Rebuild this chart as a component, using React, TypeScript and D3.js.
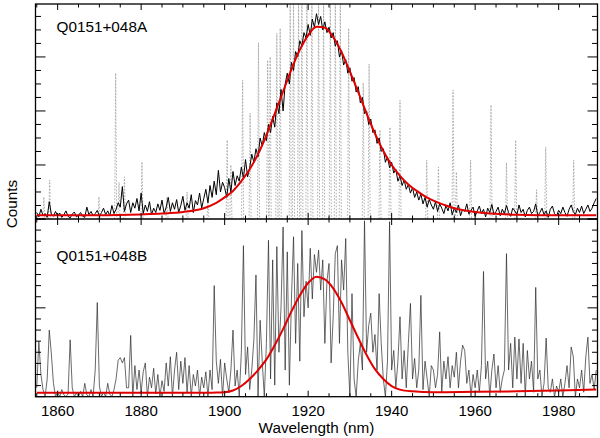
import React from 'react';
import * as d3 from 'd3';

const W = 600;
const H = 438;

// wavelength grid of the extracted spectra (nm)
const WL_START = 1855;
const WL_STEP = 0.5;

// Q0151+048A spectrum (counts, arbitrary units) sampled every 0.5 nm from 1855
const countsA = [
  12, 4, 18, 6, 10, 3, 32, 9, 5, 14,
  6, 11, 3, 8, 15, 5, 2, 9, 13, 4,
  7, 12, 5, 3, 22, 8, 14, 6, 10, 16,
  5, 12, 20, 8, 15, 6, 25, 10, 18, 30,
  22, 60, 14, 28, 35, 12, 30, 20, 38, 15,
  48, 10, 26, 14, 32, 8, 20, 12, 28, 16,
  35, 10, 22, 40, 14, 30, 18, 36, 12, 25,
  42, 16, 30, 20, 45, 12, 34, 26, 48, 20,
  38, 55, 30, 62, 40, 70, 45, 90, 50, 68,
  58, 40, 75, 50, 88, 62, 80, 70, 96, 75,
  110, 78, 95, 120, 105, 130, 115, 150, 135, 160,
  145, 175, 160, 190, 170, 215, 195, 240, 200, 250,
  270, 250, 290, 275, 310, 300, 330, 320, 345, 335,
  360, 340, 370, 355, 380, 360, 375, 350, 365, 345,
  355, 335, 345, 320, 330, 300, 312, 285, 295, 270,
  280, 255, 262, 235, 245, 215, 225, 195, 200, 175,
  185, 160, 165, 140, 150, 125, 130, 105, 115, 95,
  105, 85, 92, 70, 80, 62, 72, 55, 64, 48,
  58, 40, 50, 35, 46, 28, 40, 22, 36, 26,
  18, 32, 14, 28, 20, 10, 25, 15, 30, 8,
  20, 12, 26, 6, 18, 14, 28, 9, 16, 22,
  5, 15, 24, 10, 18, 4, 20, 12, 27, 8,
  14, 22, 6, 18, 10, 25, 12, 5, 20, 15,
  8, 26, 12, 18, 4, 16, 22, 10, 14, 28,
  6, 12, 20, 8, 15, 3, 18, 24, 10, 6,
  16, 10, 22, 12, 5, 18, 26, 14, 8, 20,
  12, 24, 10, 18, 26, 14, 20, 30, 38,
];

// Q0151+048B spectrum sampled every 0.5 nm from 1855
const countsB = [
  10, 62, 25, 8, 0, 20, 75, 48, 15, 0,
  5, 0, 8, 2, 0, 3, 64, 10, 0, 4,
  0, 6, 0, 15, 2, 0, 8, 0, 30, 106,
  12, 0, 5, 0, 15, 3, 0, 8, 20, 41,
  44, 38, 44, 10, 10, 69, 0, 35, 8, 30,
  5, 28, 38, 0, 22, 10, 32, 3, 25, 0,
  18, 6, 38, 12, 45, 0, 30, 50, 8, 40,
  15, 44, 5, 35, 0, 25, 12, 30, 0, 22,
  10, 28, 0, 30, 8, 125, 40, 15, 42, 0,
  38, 20, 5, 30, 75, 12, 30, 0, 50, 170,
  25, 56, 8, 30, 64, 137, 0, 86, 40, 0,
  60, 176, 20, 154, 13, 169, 50, 100, 191, 30,
  163, 13, 110, 180, 60, 150, 40, 187, 90, 130,
  100, 167, 110, 160, 140, 165, 120, 154, 60, 130,
  150, 38, 90, 161, 170, 60, 154, 120, 178, 50,
  0, 116, 20, 0, 40, 60, 30, 198, 50, 80,
  94, 50, 70, 30, 116, 60, 20, 0, 40, 197,
  30, 52, 10, 40, 90, 20, 52, 10, 60, 105,
  20, 43, 10, 30, 114, 8, 40, 20, 0, 35,
  30, 10, 25, 73, 5, 40, 20, 45, 10, 35,
  22, 50, 10, 40, 58, 52, 15, 30, 0, 25,
  10, 30, 5, 35, 141, 20, 40, 0, 30, 48,
  10, 35, 5, 20, 30, 161, 30, 60, 10, 67,
  20, 65, 15, 60, 0, 52, 20, 40, 5, 123,
  20, 30, 0, 15, 66, 10, 5, 20, 0, 12,
  5, 20, 0, 15, 35, 10, 56, 45, 0, 20,
  10, 30, 5, 45, 67, 15, 25, 8, 30,
];

// sky (OH) emission lines shown dotted in panel A
const skyWl = [
  1856.7, 1858.1, 1869.9, 1873.9, 1874.7, 1876.0, 1880.2, 1886.2, 1891.0, 1896.0,
  1900.6, 1901.5, 1904.3, 1906.1, 1908.1, 1910.3, 1910.9, 1912.5, 1913.3, 1915.7,
  1916.5, 1917.7, 1918.5, 1919.7, 1920.9, 1922.5, 1923.7, 1925.3, 1926.5, 1927.7,
  1929.7, 1933.2, 1934.6, 1937.2, 1939.6, 1942.0, 1948.4, 1951.2, 1954.7, 1955.5,
  1958.9, 1963.8, 1967.5, 1969.7, 1974.7, 1976.9, 1983.6,
];
const skyHeight = [
  41, 72, 41, 270, 68, 78, 106, 41, 50, 30,
  146, 100, 257, 196, 326, 294, 300, 344, 353, 430,
  430, 430, 430, 430, 430, 430, 430, 430, 430, 430,
  353, 252, 287, 165, 170, 220, 109, 96, 239, 87,
  109, 211, 104, 146, 54, 133, 109,
];

// Gaussian fits (red)
const fitAWl = [
  1855, 1870, 1880, 1885, 1890, 1895, 1898, 1900, 1902, 1904, 1906, 1908, 1910, 1912,
  1914, 1916, 1918, 1920, 1922, 1924, 1926, 1928, 1930, 1932, 1934, 1936, 1938, 1940,
  1942, 1944, 1946, 1948, 1950, 1953, 1956, 1960, 1965, 1970, 1980, 1989,
];
const fitAVal = [
  7, 7, 8.5, 10, 13, 20, 30, 40, 52, 70, 92, 120, 155, 195,
  236, 277, 313, 340, 356, 354, 337, 309, 273, 235, 195, 158, 126, 100,
  80, 64, 52, 42, 34, 25, 18, 13, 9.5, 8, 7, 7,
];
const fitBWl = [
  1855, 1890, 1898, 1900, 1902, 1904, 1906, 1908, 1910, 1912, 1914, 1916, 1918, 1920,
  1922, 1924, 1926, 1928, 1930, 1932, 1934, 1936, 1938, 1940, 1942, 1945, 1950, 1960,
  1970, 1980, 1989,
];
const fitBVal = [
  4.5, 4.5, 4.6, 5, 7, 12, 20, 30, 42, 58, 76, 96, 114, 128,
  135, 132, 122, 106, 86, 66, 47, 31, 20, 12, 8, 6, 5, 5.5,
  6, 7, 8,
];

const xTickLabels = [1860, 1880, 1900, 1920, 1940, 1960, 1980];
const panelLabels = ['Q0151+048A', 'Q0151+048B'];
const xLabel = 'Wavelength (nm)';
const yLabel = 'Counts';

const FONT = '"Liberation Sans", Arial, Helvetica, sans-serif';

export default function App() {
  const left = 35.5;
  const right = 597.5;
  const topA = 4;
  const mid = 219;
  const bottomB = 396.7;

  const x = d3.scaleLinear().domain([1854.7, 1989.3]).range([left, right]);
  const yA = d3.scaleLinear().domain([0, 398]).range([mid, topA]);
  const yB = d3.scaleLinear().domain([0, 200]).range([bottomB, mid]);

  const wl = (i: number) => WL_START + i * WL_STEP;

  const lineA = d3
    .line<number>()
    .x((_, i) => x(wl(i)))
    .y((d) => yA(d))(countsA) as string;
  const lineB = d3
    .line<number>()
    .x((_, i) => x(wl(i)))
    .y((d) => yB(d))(countsB) as string;

  const fitA = d3
    .line<number>()
    .curve(d3.curveMonotoneX)
    .x((_, i) => x(fitAWl[i]))
    .y((d) => yA(d))(fitAVal) as string;
  const fitB = d3
    .line<number>()
    .curve(d3.curveMonotoneX)
    .x((_, i) => x(fitBWl[i]))
    .y((d) => yB(d))(fitBVal) as string;

  const skyPaths = skyWl.map((w, i) => {
    const pts: [number, number][] = [
      [x(w - 0.25), yA(0)],
      [x(w), yA(skyHeight[i])],
      [x(w + 0.25), yA(0)],
    ];
    return d3.line()(pts) as string;
  });

  const xTicks = d3.range(1855, 1990, 5).filter((v) => v >= 1854.7 && v <= 1989.3);

  const yTicksA = d3.range(0, 398, 25);
  const yTicksB = d3.range(0, 200.01, 12.5);

  const tickLines: React.ReactNode[] = [];
  // x ticks on all four horizontal edges
  const edges: [number, number][] = [
    [topA, 1],
    [mid, -1],
    [mid, 1],
    [bottomB, -1],
  ];
  edges.forEach(([yy, dir], ei) => {
    xTicks.forEach((t) => {
      const len = t % 20 === 0 ? 6 : 3.5;
      tickLines.push(
        <line key={`xt${ei}-${t}`} x1={x(t)} x2={x(t)} y1={yy} y2={yy + dir * len} stroke="#000" strokeWidth={1} />
      );
    });
  });
  const yTickSets: [number[], d3.ScaleLinear<number, number>, string][] = [
    [yTicksA, yA, 'a'],
    [yTicksB, yB, 'b'],
  ];
  yTickSets.forEach(([ticks, sc, k]) => {
    ticks.forEach((t) => {
      const len = t % 100 === 0 ? 10 : 5.5;
      const yy = sc(t);
      tickLines.push(
        <line key={`yl${k}${t}`} x1={left} x2={left + len} y1={yy} y2={yy} stroke="#000" strokeWidth={1} />,
        <line key={`yr${k}${t}`} x1={right} x2={right - len} y1={yy} y2={yy} stroke="#000" strokeWidth={1} />
      );
    });
  });

  return (
    <svg
      width={W}
      height={H}
      viewBox={`0 0 ${W} ${H}`}
      style={{ position: 'absolute', left: 0, top: 0, background: '#fff' }}
    >
      <defs>
        <clipPath id="clipA">
          <rect x={left} y={topA} width={right - left} height={mid - topA} />
        </clipPath>
        <clipPath id="clipB">
          <rect x={left} y={mid} width={right - left} height={bottomB - mid} />
        </clipPath>
      </defs>
      <rect x={0} y={0} width={W} height={H} fill="#fff" />

      <g clipPath="url(#clipA)">
        {skyPaths.map((p, i) => (
          <path key={`sky${i}`} d={p} fill="none" stroke="#9a9a9a" strokeWidth={0.8} strokeDasharray="1.6,1.6" />
        ))}
        <path d={lineA} fill="none" stroke="#000" strokeWidth={1} strokeLinejoin="round" />
        <path d={fitA} fill="none" stroke="#e00000" strokeWidth={2} />
      </g>

      <g clipPath="url(#clipB)">
        <path d={lineB} fill="none" stroke="#2a2a2a" strokeWidth={0.7} strokeLinejoin="round" />
        <path d={fitB} fill="none" stroke="#e00000" strokeWidth={2} />
      </g>

      {tickLines}

      <rect x={left} y={topA} width={right - left} height={bottomB - topA} fill="none" stroke="#000" strokeWidth={1.3} />
      <line x1={left} x2={right} y1={mid} y2={mid} stroke="#000" strokeWidth={1.3} />

      <text x={56.5} y={31.5} fontFamily={FONT} fontSize={15.3} fill="#000">
        {panelLabels[0]}
      </text>
      <text x={56.5} y={261} fontFamily={FONT} fontSize={15.3} fill="#000">
        {panelLabels[1]}
      </text>

      {xTickLabels.map((t) => (
        <text key={`xl${t}`} x={x(t)} y={416} textAnchor="middle" fontFamily={FONT} fontSize={15} fill="#000">
          {t}
        </text>
      ))}
      <text x={(left + right) / 2} y={433} textAnchor="middle" fontFamily={FONT} fontSize={15.3} fill="#000">
        {xLabel}
      </text>
      <text
        transform={`translate(17,204) rotate(-90)`}
        textAnchor="middle"
        fontFamily={FONT}
        fontSize={15.3}
        fill="#000"
      >
        {yLabel}
      </text>
    </svg>
  );
}
